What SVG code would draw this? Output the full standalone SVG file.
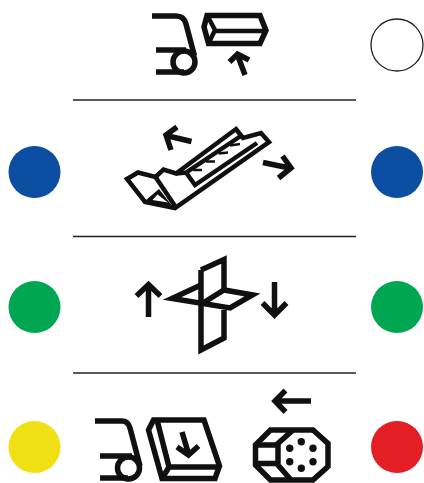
<svg xmlns="http://www.w3.org/2000/svg" width="424" height="483" viewBox="0 0 424 483">
<style>
.i{fill:none;stroke:#111011;stroke-width:5.5;stroke-linejoin:miter}
.m{stroke-width:4.5}
.t{stroke-width:2.5}
.a{stroke-width:5.500}
.r{stroke:#231f20;stroke-width:1.4}
.d{fill:#111011}
</style>
<rect width="424" height="483" fill="#fff"/>
<g id="dividers" class="r">
<line x1="73" y1="100" x2="356" y2="100"/>
<line x1="73" y1="236.500" x2="356" y2="236.500"/>
<line x1="73" y1="373" x2="356" y2="373"/>
</g>
<g id="lamp-white"><circle cx="397" cy="45" r="26" fill="#fff" stroke="#231f20" stroke-width="1.300"/></g>
<g id="lamp-blue-left"><circle cx="34.500" cy="172" r="26" fill="#0b4ea2"/></g>
<g id="lamp-blue-right"><circle cx="397" cy="172" r="26" fill="#0b4ea2"/></g>
<g id="lamp-green-left"><circle cx="34.500" cy="307" r="26" fill="#00a651"/></g>
<g id="lamp-green-right"><circle cx="397" cy="307" r="26" fill="#00a651"/></g>
<g id="lamp-yellow"><circle cx="34.500" cy="447" r="26" fill="#f0e014"/></g>
<g id="lamp-red"><circle cx="397" cy="447" r="26" fill="#e31e25"/></g>
<g id="icon-lift" class="i">
<path d="M152 16H176Q184 16 186 24L194.500 56"/>
<path d="M156 50H186M156 72H184"/>
<circle cx="184" cy="62" r="11"/>
<path d="M207 15.500H260L266 30.500L260 43.500H208.500L204 27Z"/>
<path class="m" d="M207 15L215 30L208.500 43.500M214 31H266"/>
<path class="a" d="M245 75L237.500 55M229.500 62L237.500 54L249 60"/>
</g>
<g id="icon-tilt" class="i m">
<path d="M127 179L138 172.500L155.500 177L163.500 169.500L176 173.500L236 129L243 138L261 133L269 142L175 208L145 202Z"/>
<path d="M155.500 177L176 207.500"/>
<path class="d" style="stroke:none" fill-rule="evenodd" d="M146 200L159 189L173 207L145 203ZM157.500 194.500L168 202.500L152.500 200Z"/>
<path d="M176 173.500L186 172.500L240 136.500M186 172.500L195 185L257 143"/>
<path class="t" d="M193 170L202 170M206 161.500L215 161.500M218.500 153.500L228 152.500M230 145.500L240 144"/>
<path class="a" d="M191.500 141.500L166 135.500M177 127L166 135L171 150"/>
<path class="a" d="M263 162.500L289.500 168M282.500 156L291 168L278.500 178"/>
</g>
<g id="icon-cross" class="i">
<path d="M201 270L224 259.500V290M224 310V338L201 350V270"/>
<path d="M201 285L172 298.500L230 308L252.500 295L224 290L203 303"/>
<path class="a" d="M148.500 317V287M136.500 296L148.500 284.500L160.500 296"/>
<path class="a" d="M274.500 282V312M262.500 303L274.500 315L286.500 303"/>
</g>
<g id="icon-press" class="i">
<path d="M95 421H122Q128 421 130 428L140 466"/>
<path d="M100 456H132M100 478H128"/>
<circle cx="128.500" cy="468" r="11"/>
<path d="M153.500 420H204L219.500 466L215 478.500H162L148.500 430Z"/>
<path d="M157 420L169 467H219M169 467L162 478.500"/>
<path class="a" d="M182 432L188 452M177 447L188.500 455L198.500 446"/>
</g>
<g id="icon-wheel" class="i">
<path d="M270.500 430H313L328 443.500V466.500L313 480H270.500L255.500 465V445Z"/>
<path d="M293 430L278 443.500V465L291 480M255.500 445H278M255.500 463.500H278"/>
<g class="d" style="stroke:none">
<circle cx="301.300" cy="441.700" r="3.700"/><circle cx="313" cy="448.300" r="3.700"/><circle cx="313" cy="461.700" r="3.700"/><circle cx="301.300" cy="468.300" r="3.700"/><circle cx="289.700" cy="461.700" r="3.700"/><circle cx="289.700" cy="448.300" r="3.700"/>
</g>
<path class="a" d="M311 401H277M285.500 390.500L275 401L285.500 412"/>
</g>
</svg>
